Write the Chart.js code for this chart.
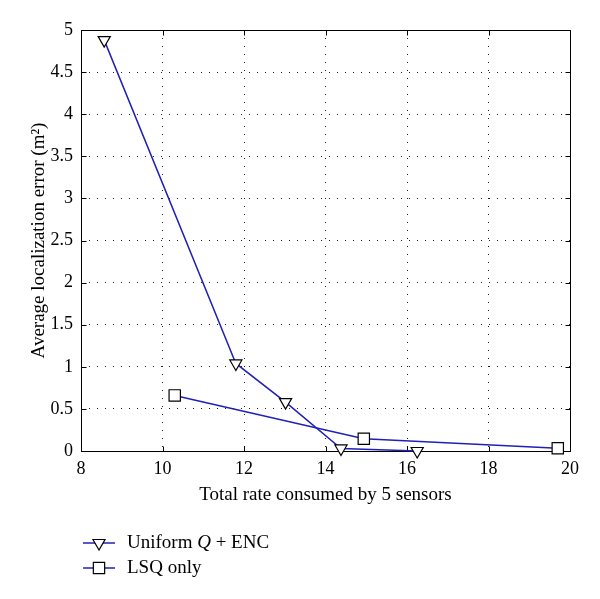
<!DOCTYPE html>
<html>
<head>
<meta charset="utf-8">
<script src="https://cdn.jsdelivr.net/npm/chart.js"></script>
<style>
html,body{margin:0;padding:0;background:#ffffff;}
#wrap{width:600px;height:599px;position:relative;}
</style>
</head>
<body>
<div id="wrap"><canvas id="c" width="600" height="599"></canvas></div>
<script>
// ---- data ----
const uniformRate  = [8.57, 11.80, 13.02, 14.38, 16.25];
const uniformError = [4.88, 1.04, 0.58, 0.03, 0.0];
const lsqRate  = [10.30, 14.94, 19.70];
const lsqError = [0.66, 0.145, 0.033];
const xTicks = [8, 10, 12, 14, 16, 18, 20];
const yTicks = [0, 0.5, 1, 1.5, 2, 2.5, 3, 3.5, 4, 4.5, 5];
const xTitle = 'Total rate consumed by 5 sensors';
const yTitle = 'Average localization error (m\u00B2)';
const legendParts = [
  [['Uniform ', false], ['Q', true], [' + ENC', false]],
  [['LSQ only', false]]
];

const FONT = '"Liberation Serif", "DejaVu Serif", serif';
const LINE = '#2020b8';

function toPoints(xs, ys) { return xs.map((x, i) => ({x: x, y: ys[i]})); }

const framePlugin = {
  id: 'frame',
  beforeDatasetsDraw(chart) {
    const {ctx, chartArea: a, scales} = chart;
    ctx.save();
    ctx.strokeStyle = '#000';
    ctx.lineWidth = 1;
    ctx.setLineDash([]);
    const L = Math.round(a.left) + 0.5, R = Math.round(a.right) + 0.5;
    const T = Math.round(a.top) + 0.5, B = Math.round(a.bottom) + 0.5;
    ctx.strokeRect(L, T, R - L, B - T);
    const tl = 5;
    ctx.beginPath();
    xTicks.forEach(v => {
      const px = Math.round(scales.x.getPixelForValue(v)) + 0.5;
      ctx.moveTo(px, B); ctx.lineTo(px, B - tl);
      ctx.moveTo(px, T); ctx.lineTo(px, T + tl);
    });
    yTicks.forEach(v => {
      const py = Math.round(scales.y.getPixelForValue(v)) + 0.5;
      ctx.moveTo(L, py); ctx.lineTo(L + tl, py);
      ctx.moveTo(R, py); ctx.lineTo(R - tl, py);
    });
    ctx.stroke();
    ctx.restore();
  },
  afterDraw(chart) {
    const {ctx, chartArea: a} = chart;
    ctx.save();
    chart.data.datasets.forEach((ds, i) => {
      const y = a.bottom + 92 + i * 25;
      const x0 = a.left + 2;
      ctx.strokeStyle = ds.borderColor;
      ctx.lineWidth = ds.borderWidth;
      ctx.beginPath();
      ctx.moveTo(x0, y); ctx.lineTo(x0 + 32, y);
      ctx.stroke();
      ctx.fillStyle = ds.pointBackgroundColor;
      ctx.strokeStyle = ds.pointBorderColor;
      ctx.lineWidth = ds.pointBorderWidth;
      Chart.helpers.drawPoint(ctx, {
        pointStyle: ds.pointStyle,
        rotation: ds.pointRotation,
        radius: ds.pointRadius,
        borderWidth: ds.pointBorderWidth
      }, x0 + 16, y);
      let tx = x0 + 44;
      ctx.fillStyle = '#000';
      ctx.textBaseline = 'middle';
      ctx.textAlign = 'left';
      legendParts[i].forEach(([txt, italic]) => {
        ctx.font = (italic ? 'italic ' : '') + '19px ' + FONT;
        ctx.fillText(txt, tx, y);
        tx += ctx.measureText(txt).width;
      });
    });
    ctx.restore();
  }
};

const tickSetter = (arr) => function(scale) {
  scale.ticks = arr.map(v => ({value: v}));
};

new Chart(document.getElementById('c'), {
  type: 'line',
  data: {
    datasets: [
      {
        label: 'Uniform Q + ENC',
        data: toPoints(uniformRate, uniformError),
        borderColor: LINE,
        borderWidth: 1.5,
        pointStyle: 'triangle',
        pointRotation: 180,
        pointRadius: 7,
        pointBackgroundColor: '#ffffff',
        pointBorderColor: '#000000',
        pointBorderWidth: 1.2,
        tension: 0,
        clip: false
      },
      {
        label: 'LSQ only',
        data: toPoints(lsqRate, lsqError),
        borderColor: LINE,
        borderWidth: 1.5,
        pointStyle: 'rect',
        pointRadius: 8,
        pointBackgroundColor: '#ffffff',
        pointBorderColor: '#000000',
        pointBorderWidth: 1.2,
        tension: 0,
        clip: false
      }
    ]
  },
  options: {
    responsive: false,
    animation: false,
    devicePixelRatio: 1,
    layout: {padding: {left: 0, top: 30, right: 30, bottom: 93}},
    plugins: {legend: {display: false}, tooltip: {enabled: false}},
    elements: {line: {fill: false}},
    scales: {
      x: {
        type: 'linear',
        min: 8, max: 20,
        afterBuildTicks: tickSetter(xTicks),
        afterFit: (s) => { s.height = 55; },
        ticks: {
          callback: (v) => String(v),
          color: '#000',
          padding: 7,
          maxRotation: 0,
          font: {family: FONT, size: 18}
        },
        grid: {color: '#222', lineWidth: 1, drawTicks: false},
        border: {display: false, dash: [1, 7]},
        title: {
          display: true, text: xTitle, color: '#000',
          font: {family: FONT, size: 19},
          padding: {top: 0, bottom: 0}
        }
      },
      y: {
        type: 'linear',
        min: 0, max: 5,
        afterBuildTicks: tickSetter(yTicks),
        afterFit: (s) => { s.width = 81; },
        ticks: {
          callback: (v) => String(v),
          color: '#000',
          padding: 8,
          font: {family: FONT, size: 18}
        },
        grid: {color: '#222', lineWidth: 1, drawTicks: false},
        border: {display: false, dash: [1, 7]},
        title: {
          display: true, text: yTitle, color: '#000',
          font: {family: FONT, size: 19},
          padding: {top: 28, bottom: 0}
        }
      }
    }
  },
  plugins: [framePlugin]
});
</script>
</body>
</html>
